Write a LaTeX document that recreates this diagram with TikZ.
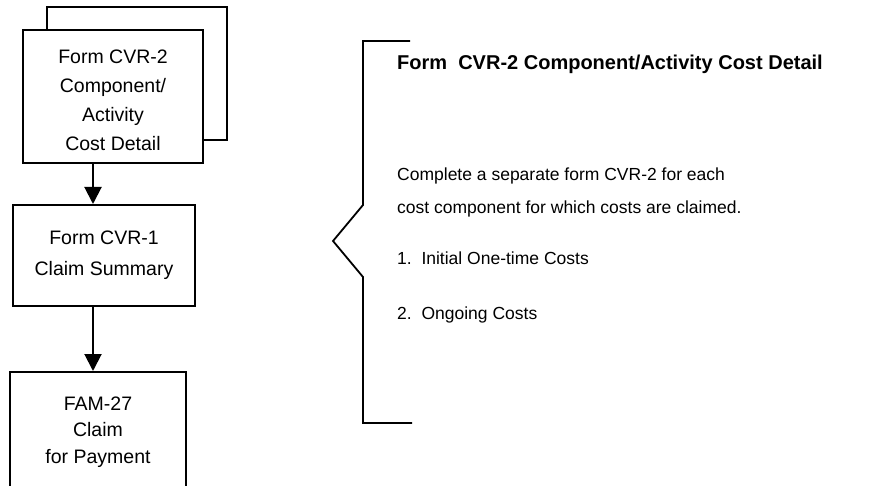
\documentclass[tikz,border=0pt]{standalone}
\usepackage{fontspec}
\setmainfont{Liberation Sans}
\usetikzlibrary{arrows.meta}
\begin{document}
\begin{tikzpicture}[x=1pt,y=-1pt,
  formbox/.style={draw=black,line width=2pt,fill=white,inner sep=0pt,align=center,
     font=\fontsize{19.5}{29}\selectfont},
  arr/.style={line width=2pt,-{Triangle[length=17pt,width=17pt]}},
  bracketline/.style={line width=1.8pt,line join=miter},
  righttext/.style={anchor=base west,inner sep=0pt,font=\fontsize{17.5}{21}\selectfont},
  titletext/.style={anchor=base west,inner sep=0pt,font=\fontsize{20}{24}\selectfont\bfseries}]
\useasboundingbox (0,0) rectangle (896,486);
\clip (0,0) rectangle (896,486);
% left flow
\node[formbox,minimum width=180pt,minimum height=133pt] (back) at (137,73.5) {};
\node[formbox,minimum width=180pt,minimum height=133pt,
  label={[align=center,font=\fontsize{19.5}{29}\selectfont,yshift=-4pt,inner sep=0pt]center:Form CVR-2\\Component/\\Activity\\Cost Detail}] (cvr2) at (113,96.5) {};
\node[formbox,minimum width=182pt,minimum height=101pt] (cvr1) at (104,255.5)
  {Form CVR-1\\[2pt]Claim Summary};
\node[formbox,minimum width=176pt,minimum height=120pt,font=\fontsize{19.5}{26.5}\selectfont] (fam) at (98,432)
  {FAM-27\\Claim\\for Payment};
\coordinate (ax) at (93,0);
\draw[arr] (cvr2.south -| ax) -- (cvr1.north -| ax);
\draw[arr] (cvr1.south -| ax) -- (fam.north -| ax);
% bracket
\coordinate (b1) at (410,41);
\coordinate (b2) at (363,41);
\coordinate (b3) at (363,205);
\coordinate (b4) at (333,241);
\coordinate (b5) at (363,277);
\coordinate (b6) at (363,423);
\coordinate (b7) at (412,423);
\draw[bracketline] (b1) -- (b2) -- (b3) -- (b4) -- (b5) -- (b6) -- (b7);
% right text
\node[titletext] (title) at (397,70) {Form\ \ CVR-2 Component/Activity Cost Detail};
\node[righttext] (l1) at (397,181) {Complete a separate form CVR-2 for each};
\node[righttext] (l2) at (397,214) {cost component for which costs are claimed.};
\node[righttext] (i1) at (397,264) {1.\ \ Initial One-time Costs};
\node[righttext] (i2) at (397,319) {2.\ \ Ongoing Costs};
\end{tikzpicture}
\end{document}
